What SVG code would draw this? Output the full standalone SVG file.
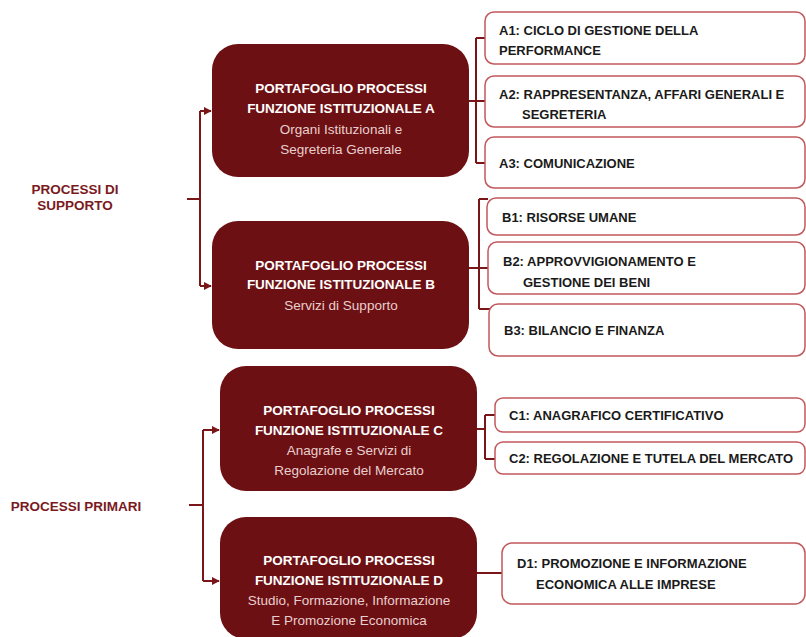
<svg xmlns="http://www.w3.org/2000/svg" width="806" height="637" viewBox="0 0 806 637">
<defs>
<style>
.node{fill:#6D1013;}
.t{font-family:"Liberation Sans",Arial,sans-serif;text-anchor:middle;}
.tb{font-size:13.5px;font-weight:bold;fill:#FFFFFF;}
.ts{font-size:13.5px;fill:#E8CFCF;}
.box{fill:#FFFFFF;stroke:#C2585B;stroke-width:1.5;}
.bt{font-family:"Liberation Sans",Arial,sans-serif;font-size:13px;font-weight:bold;fill:#1A1A1A;}
.lab{font-family:"Liberation Sans",Arial,sans-serif;font-size:13.5px;font-weight:bold;fill:#7A1A1E;text-anchor:middle;}
.c{fill:none;stroke:#7A1518;stroke-width:2;}
</style>
<marker id="ar" viewBox="0 0 10 10" refX="9" refY="5" markerWidth="4" markerHeight="4" orient="auto" markerUnits="strokeWidth">
<path d="M0,0 L10,5 L0,10 z" fill="#7A1518"/>
</marker>
</defs>
<rect width="806" height="637" fill="#FFFFFF"/>

<g id="connectors">
<path class="c" d="M187,199 H200 M200,111 V286"/>
<path class="c" d="M200,111 H211" marker-end="url(#ar)"/>
<path class="c" d="M200,286 H211" marker-end="url(#ar)"/>
<path class="c" d="M189,505 H203 M203,430 V581"/>
<path class="c" d="M203,430 H219" marker-end="url(#ar)"/>
<path class="c" d="M203,581 H219" marker-end="url(#ar)"/>
<path class="c" d="M469,101 H476 M476,38 V163 M476,38 H486 M476,101 H486 M476,163 H486"/>
<path class="c" d="M469,268 H479 M479,199 V309 M479,199 H488 M479,268 H489 M479,309 H490"/>
<path class="c" d="M477,429 H485 M485,415 V459 M485,415 H496 M485,459 H496"/>
<path class="c" d="M477,573 H503"/>
</g>

<g id="lab-supporto">
<text class="lab" x="75" y="194">PROCESSI DI</text>
<text class="lab" x="75" y="210">SUPPORTO</text>
</g>
<g id="lab-primari">
<text class="lab" x="76" y="511">PROCESSI PRIMARI</text>
</g>

<g id="nodeA">
<rect class="node" x="212" y="44" width="257" height="133" rx="26"/>
<text class="t tb" x="341" y="93">PORTAFOGLIO PROCESSI</text>
<text class="t tb" x="341" y="113">FUNZIONE ISTITUZIONALE A</text>
<text class="t ts" x="341" y="134">Organi Istituzionali e</text>
<text class="t ts" x="341" y="154">Segreteria Generale</text>
</g>
<g id="nodeB">
<rect class="node" x="212" y="221" width="257" height="128" rx="26"/>
<text class="t tb" x="341" y="270">PORTAFOGLIO PROCESSI</text>
<text class="t tb" x="341" y="289">FUNZIONE ISTITUZIONALE B</text>
<text class="t ts" x="341" y="310">Servizi di Supporto</text>
</g>
<g id="nodeC">
<rect class="node" x="220" y="366" width="257" height="125" rx="26"/>
<text class="t tb" x="349" y="415">PORTAFOGLIO PROCESSI</text>
<text class="t tb" x="349" y="435">FUNZIONE ISTITUZIONALE C</text>
<text class="t ts" x="349" y="455">Anagrafe e Servizi di</text>
<text class="t ts" x="349" y="475">Regolazione del Mercato</text>
</g>
<g id="nodeD">
<rect class="node" x="220" y="517" width="257" height="122" rx="26"/>
<text class="t tb" x="349" y="565">PORTAFOGLIO PROCESSI</text>
<text class="t tb" x="349" y="585">FUNZIONE ISTITUZIONALE D</text>
<text class="t ts" x="349" y="605">Studio, Formazione, Informazione</text>
<text class="t ts" x="349" y="625">E Promozione Economica</text>
</g>

<g id="A1">
<rect class="box" x="485" y="12" width="320" height="52" rx="9"/>
<text class="bt" x="499" y="35">A1: CICLO DI GESTIONE DELLA</text>
<text class="bt" x="499" y="55">PERFORMANCE</text>
</g>
<g id="A2">
<rect class="box" x="485" y="76" width="320" height="51" rx="9"/>
<text class="bt" x="499" y="99">A2: RAPPRESENTANZA, AFFARI GENERALI E</text>
<text class="bt" x="522" y="119">SEGRETERIA</text>
</g>
<g id="A3">
<rect class="box" x="485" y="137" width="320" height="51" rx="9"/>
<text class="bt" x="499" y="168">A3: COMUNICAZIONE</text>
</g>
<g id="B1">
<rect class="box" x="487" y="198" width="318" height="37" rx="9"/>
<text class="bt" x="502" y="222">B1: RISORSE UMANE</text>
</g>
<g id="B2">
<rect class="box" x="488" y="242" width="317" height="52" rx="9"/>
<text class="bt" x="503" y="266">B2: APPROVVIGIONAMENTO E</text>
<text class="bt" x="523" y="287">GESTIONE DEI BENI</text>
</g>
<g id="B3">
<rect class="box" x="489" y="304" width="316" height="52" rx="9"/>
<text class="bt" x="504" y="335">B3: BILANCIO E FINANZA</text>
</g>
<g id="C1">
<rect class="box" x="495" y="398" width="310" height="34" rx="8"/>
<text class="bt" x="509" y="420">C1: ANAGRAFICO CERTIFICATIVO</text>
</g>
<g id="C2">
<rect class="box" x="495" y="442" width="310" height="32" rx="8"/>
<text class="bt" x="509" y="463">C2: REGOLAZIONE E TUTELA DEL MERCATO</text>
</g>
<g id="D1">
<rect class="box" x="502" y="543" width="303" height="61" rx="10"/>
<text class="bt" x="517" y="568">D1: PROMOZIONE E INFORMAZIONE</text>
<text class="bt" x="536" y="589">ECONOMICA ALLE IMPRESE</text>
</g>
</svg>
